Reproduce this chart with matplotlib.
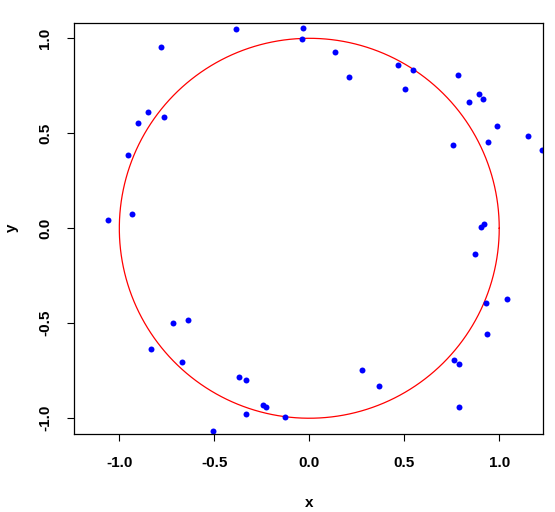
import numpy as np
import matplotlib
matplotlib.use("Agg")
from matplotlib import pyplot as plt

# scattered points
x = [-1.058, -0.932, -0.953, -0.900, -0.847, -0.763, -0.779, -0.384, -0.032, -0.037,
     0.137, 0.211, 0.468, 0.547, 0.505, 0.784, 0.895, 0.916, 0.842, 0.989,
     1.153, 1.226, 0.942, 0.758, 0.905, 0.921, 0.874, 0.932, 1.042, 0.937,
     0.763, 0.789, 0.789, 0.279, 0.368, -0.716, -0.637, -0.832, -0.668, -0.368,
     -0.332, -0.332, -0.242, -0.226, -0.126, -0.505]
y = [0.042, 0.074, 0.384, 0.553, 0.611, 0.584, 0.953, 1.047, 1.053, 0.995,
     0.926, 0.795, 0.858, 0.832, 0.732, 0.805, 0.705, 0.679, 0.663, 0.537,
     0.484, 0.411, 0.453, 0.437, 0.005, 0.021, -0.137, -0.395, -0.374, -0.558,
     -0.695, -0.716, -0.942, -0.747, -0.832, -0.500, -0.484, -0.637, -0.705, -0.784,
     -0.800, -0.979, -0.932, -0.942, -0.995, -1.068]

radius = 1.0
ticks = [-1.0, -0.5, 0.0, 0.5, 1.0]
tick_labels = ["-1.0", "-0.5", "0.0", "0.5", "1.0"]

plt.rcParams['font.family'] = ['Liberation Sans', 'DejaVu Sans']

fig = plt.figure(figsize=(5.55, 5.12), dpi=100)
ax = fig.add_axes([74.3 / 555, 1 - 434 / 512, 469 / 555, 410.7 / 512])

theta = np.linspace(0, 2 * np.pi, 200)
ax.plot(radius * np.cos(theta), radius * np.sin(theta), color="red", lw=0.9)
ax.plot(x, y, "o", color="blue", markersize=4.3, markeredgewidth=0, clip_on=True)

ax.set_xlim(-1.237, 1.232)
ax.set_ylim(-1.083, 1.079)

ax.set_xticks(ticks)
ax.set_xticklabels(tick_labels, fontsize=11, fontweight="bold")
ax.set_yticks(ticks)
ax.set_yticklabels(tick_labels, fontsize=11, fontweight="bold", rotation=90, va="center")
ax.tick_params(direction="out", length=5, width=0.8, pad=11)
for s in ax.spines.values():
    s.set_linewidth(0.9)

fig.text(309 / 555, 1 - 503 / 512, "x", ha="center", va="center", fontsize=11, fontweight="bold")
fig.text(12 / 555, 1 - 228 / 512, "y", ha="center", va="center", fontsize=11, fontweight="bold", rotation=90)

fig.savefig("out.png", dpi=100)
